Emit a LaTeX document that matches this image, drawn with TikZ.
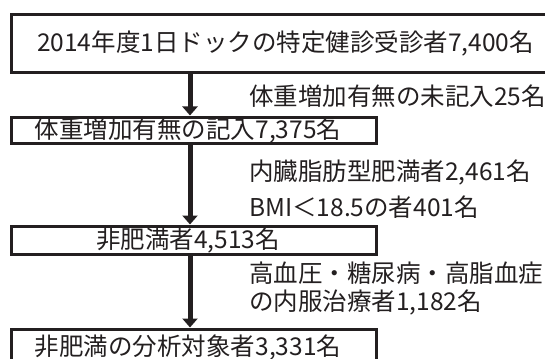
\documentclass[tikz,border=0pt]{standalone}
\usepackage{fontspec}
\setmainfont{Noto Sans CJK JP}
\usetikzlibrary{arrows.meta}
\definecolor{ink}{HTML}{231F20}
\begin{document}
\begin{tikzpicture}[x=1pt,y=1pt,
  box/.style={draw=ink,line width=3pt,inner sep=0pt,anchor=north west,text=ink,font=\fontsize{24.5}{27}\selectfont,align=center},
  side/.style={anchor=west,inner sep=0pt,text=ink,font=\fontsize{24.5}{27}\selectfont},
  flow/.style={draw=ink,line width=5pt,-{Triangle[width=15pt,length=9pt]},shorten >=-1pt}]
\useasboundingbox (0,0) rectangle (545,-358);
\node[box,minimum width=539pt,minimum height=58pt] (b1) at (10,-13) {\hspace*{9pt}2014年度1日ドックの特定健診受診者7,400名};
\node[box,minimum width=365pt,minimum height=26pt] (b2) at (10,-116) {\hspace*{-12pt}体重増加有無の記入7,375名};
\node[box,minimum width=365pt,minimum height=28pt] (b3) at (10,-225) {\hspace*{-12pt}非肥満者4,513名};
\node[box,minimum width=365pt,minimum height=36pt] (b4) at (10,-328) {\raisebox{4pt}{\hspace*{-12pt}非肥満の分析対象者3,331名}};
\coordinate (a1s) at (190,-72.5);
\coordinate (a1e) at (190,-114.5);
\coordinate (a2s) at (190,-143.5);
\coordinate (a2e) at (190,-223.5);
\coordinate (a3s) at (190,-254.5);
\coordinate (a3e) at (190,-326.5);
\draw[flow] (a1s) -- (a1e);
\draw[flow] (a2s) -- (a2e);
\draw[flow] (a3s) -- (a3e);
\node[side] (t1) at (249,-96) {体重増加有無の未記入25名};
\node[side] (t2) at (249,-173) {内臓脂肪型肥満者2,461名};
\node[side] (t3) at (249,-207) {BMI＜18.5の者401名};
\node[side] (t4) at (249,-273) {高血圧・糖尿病・高脂血症};
\node[side] (t5) at (249,-302) {の内服治療者1,182名};
\end{tikzpicture}
\end{document}
